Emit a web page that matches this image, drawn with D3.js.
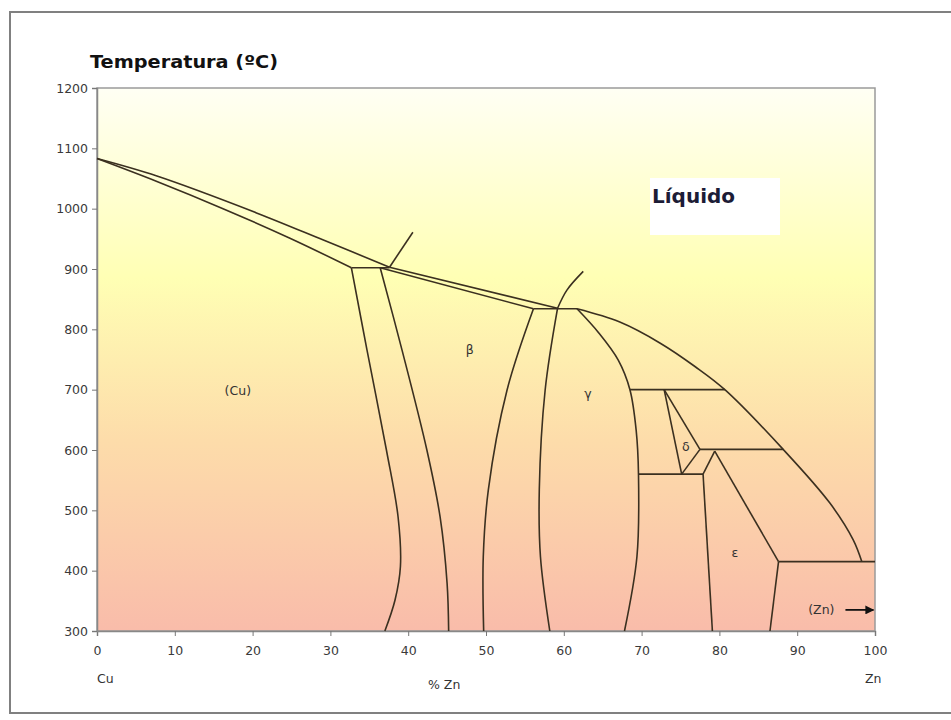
<!DOCTYPE html>
<html>
<head>
<meta charset="utf-8">
<script src="https://cdn.jsdelivr.net/npm/d3@7"></script>
<style>
  body { margin: 0; background: #fff; }
  text { font-family: "DejaVu Sans", sans-serif; }
</style>
</head>
<body>
<div id="chart"></div>
<script>
var margin = {top: 88, right: 76, bottom: 89, left: 97},
    width = 951 - margin.left - margin.right,
    height = 720 - margin.top - margin.bottom;

// ticks
var xTicks = [0, 10, 20, 30, 40, 50, 60, 70, 80, 90, 100];
var yTicks = [300, 400, 500, 600, 700, 800, 900, 1000, 1100, 1200];

// phase boundaries, [% Zn, T in ºC]
// curved boundaries
var liquidusCu   = [[0, 1083], [7.7, 1054], [20.5, 993], [29.1, 948], [37.6, 903]];
var solidusCu    = [[0, 1083], [7.7, 1045], [16.2, 1000], [24.8, 951], [32.7, 902]];
var liquidusZn   = [[61.7, 834], [67.2, 812], [72.4, 777], [76.9, 738], [80.7, 700], [88.2, 601], [94.2, 512], [97.2, 451], [98.3, 415]];
var solvusCu     = [[32.7, 902], [34.7, 766], [37.2, 600], [38.7, 489], [39.0, 407], [38.3, 351], [37.0, 300]];
var betaLeft     = [[36.4, 902], [39.2, 766], [42.4, 600], [44.1, 489], [45.0, 379], [45.2, 300]];
var spur835      = [[62.5, 896], [60.4, 865], [59.2, 835]];
var betaRight    = [[56.1, 834], [52.7, 699], [50.3, 534], [49.65, 423], [49.7, 300]];
var gammaLeft    = [[59.2, 835], [57.6, 699], [56.85, 534], [57.0, 423], [58.2, 300]];
var gammaRight   = [[61.7, 834], [64.5, 794], [67.0, 749], [68.5, 700], [69.3, 633], [69.6, 560], [69.4, 423], [67.8, 300]];
// straight segments
var liquidusBeta = [[37.6, 903], [59.2, 835]];
var solidusBeta  = [[36.4, 902], [56.1, 834]];
var peritectic902 = [[32.7, 902], [37.6, 902]];
var spur902      = [[37.6, 903], [40.6, 961]];
var peritectic835 = [[56.1, 834], [61.7, 834]];
var iso700       = [[68.5, 700], [80.7, 700]];
var deltaLeft    = [[72.9, 700], [75.15, 560]];
var deltaRight   = [[72.9, 700], [77.5, 601]];
var deltaBottom  = [[77.5, 601], [75.15, 560]];
var iso600       = [[77.5, 601], [88.2, 601]];
var iso560       = [[69.6, 560], [77.9, 560]];
var epsLeft      = [[77.9, 560], [79.1, 300]];
var epsPeak      = [[77.9, 560], [79.4, 598]];
var epsRight     = [[79.4, 598], [87.6, 415]];
var iso415       = [[87.6, 415], [100, 415]];
var znLeft       = [[87.6, 415], [86.5, 300]];

// region names and where they sit [% Zn, T]
var regionNames = ["(Cu)", "β", "γ", "δ", "ε", "(Zn)"];
var regionAt = [[18.1, 698], [47.9, 767], [63.1, 693], [75.7, 606], [82.0, 430], [93.1, 335]];

var curvedLines = [liquidusCu, solidusCu, liquidusZn, solvusCu, betaLeft, spur835,
                   betaRight, gammaLeft, gammaRight];
var straightLines = [liquidusBeta, solidusBeta, peritectic902, spur902, peritectic835, iso700,
                     deltaLeft, deltaRight, deltaBottom, iso600, iso560, epsLeft, epsPeak, epsRight,
                     iso415, znLeft];

var svg0 = d3.select("#chart")
    .append("svg")
    .attr("width", 951)
    .attr("height", 720);

// outer frame
svg0.append("rect")
    .attr("x", 10).attr("y", 12)
    .attr("width", 960).attr("height", 701)
    .attr("fill", "#fff")
    .attr("stroke", "#808080")
    .attr("stroke-width", 2);

var defs = svg0.append("defs");
var grad = defs.append("linearGradient")
    .attr("id", "bg")
    .attr("x1", 0).attr("y1", 0).attr("x2", 0).attr("y2", 1);
grad.append("stop").attr("offset", "0%").attr("stop-color", "#fffff4");
grad.append("stop").attr("offset", "35%").attr("stop-color", "#ffffb4");
grad.append("stop").attr("offset", "65%").attr("stop-color", "#fddcaa");
grad.append("stop").attr("offset", "100%").attr("stop-color", "#f9bcaa");

defs.append("marker")
    .attr("id", "arrow")
    .attr("viewBox", "0 0 10 10")
    .attr("refX", 9).attr("refY", 5)
    .attr("markerWidth", 10).attr("markerHeight", 9)
    .attr("markerUnits", "userSpaceOnUse")
    .attr("orient", "auto")
    .append("path")
    .attr("d", "M0,0L10,5L0,10z")
    .attr("fill", "#111");

var svg = svg0.append("g")
    .attr("transform", "translate(" + margin.left + "," + margin.top + ")");

var x = d3.scaleLinear().domain([0, 100]).range([0, width]);
var y = d3.scaleLinear().domain([300, 1200]).range([height, 0]);

svg.append("rect")
    .attr("width", width)
    .attr("height", height)
    .attr("fill", "url(#bg)")
    .attr("stroke", "#9a9a9a")
    .attr("stroke-width", 1.5);

// axes
var xAxis = svg.append("g")
    .attr("transform", "translate(0," + height + ")")
    .call(d3.axisBottom(x).tickValues(xTicks).tickSize(5).tickPadding(10));
var yAxis = svg.append("g")
    .call(d3.axisLeft(y).tickValues(yTicks).tickFormat(d3.format("d")).tickSize(5).tickPadding(4));
[xAxis, yAxis].forEach(function(a) {
    a.select(".domain").attr("stroke", "#888").attr("stroke-width", 1.5);
    a.selectAll(".tick line").attr("stroke", "#777");
    a.selectAll(".tick text")
        .attr("fill", "#3a3a3a")
        .style("font-size", "12.5px")
        .style("font-family", "DejaVu Sans, sans-serif");
});

// boundaries
var curvedPath = d3.line()
    .x(function(d) { return x(d[0]); })
    .y(function(d) { return y(d[1]); })
    .curve(d3.curveCatmullRom.alpha(0.5));
var straightPath = d3.line()
    .x(function(d) { return x(d[0]); })
    .y(function(d) { return y(d[1]); });

svg.selectAll(".curvedLine")
    .data(curvedLines)
    .enter()
    .append("path")
    .attr("class", "curvedLine phase")
    .attr("d", curvedPath);
svg.selectAll(".straightLine")
    .data(straightLines)
    .enter()
    .append("path")
    .attr("class", "straightLine phase")
    .attr("d", straightPath);
svg.selectAll(".phase")
    .attr("fill", "none")
    .attr("stroke", "#3b3020")
    .attr("stroke-width", 1.6)
    .attr("stroke-linejoin", "round");

// region labels
svg.selectAll(".region")
    .data(regionNames)
    .enter()
    .append("text")
    .attr("class", "region")
    .attr("x", function(d, i) { return x(regionAt[i][0]); })
    .attr("y", function(d, i) { return y(regionAt[i][1]); })
    .attr("text-anchor", "middle")
    .attr("dominant-baseline", "central")
    .attr("fill", "#333")
    .style("font-size", "12.5px")
    .text(function(d) { return d; });

// arrow next to (Zn)
svg.append("line")
    .attr("x1", x(96.2)).attr("y1", y(335))
    .attr("x2", x(99.8)).attr("y2", y(335))
    .attr("stroke", "#111")
    .attr("stroke-width", 1.8)
    .attr("marker-end", "url(#arrow)");

// Líquido with its white box
svg.append("rect")
    .attr("x", 553).attr("y", 90)
    .attr("width", 130).attr("height", 57)
    .attr("fill", "#fff");
svg.append("text")
    .attr("x", 555).attr("y", 115)
    .attr("fill", "#1c1c36")
    .style("font-size", "20px")
    .style("font-weight", "bold")
    .text("Líquido");

// axis titles
svg0.append("text")
    .attr("x", 90).attr("y", 68)
    .attr("fill", "#111")
    .attr("textLength", 188)
    .attr("lengthAdjust", "spacingAndGlyphs")
    .style("font-size", "17px")
    .style("font-weight", "bold")
    .text("Temperatura (ºC)");
svg0.append("text")
    .attr("x", 97).attr("y", 683)
    .attr("fill", "#333")
    .style("font-size", "12.5px")
    .text("Cu");
svg0.append("text")
    .attr("x", 428).attr("y", 689)
    .attr("fill", "#333")
    .style("font-size", "12.5px")
    .text("% Zn");
svg0.append("text")
    .attr("x", 865).attr("y", 683)
    .attr("fill", "#333")
    .style("font-size", "12.5px")
    .text("Zn");
</script>
</body>
</html>
